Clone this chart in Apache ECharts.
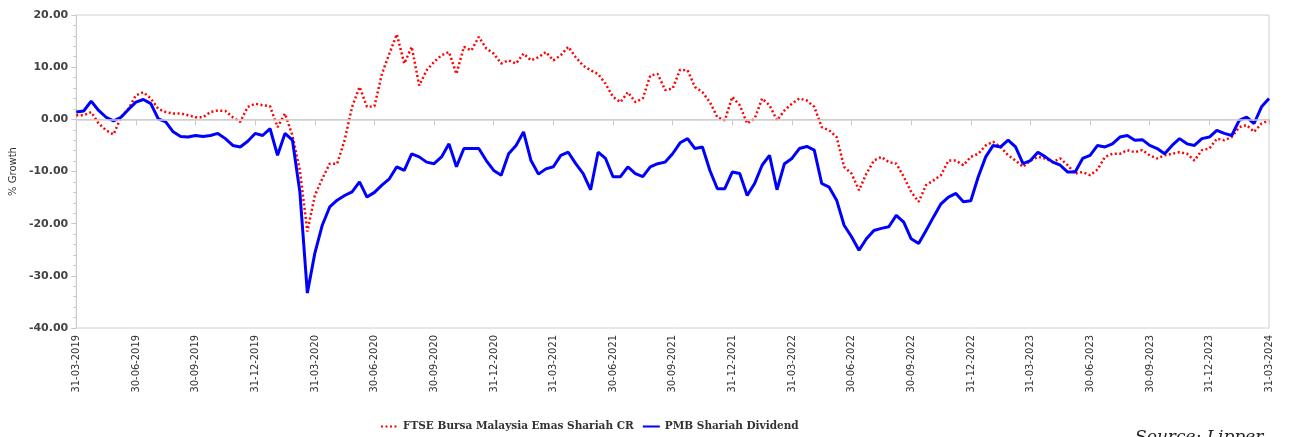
<!DOCTYPE html>
<html>
<head>
<meta charset="utf-8">
<title>FTSE Bursa Malaysia Emas Shariah CR vs PMB Shariah Dividend</title>
<script src="https://cdn.jsdelivr.net/npm/echarts@6/dist/echarts.min.js"></script>
<style>
  html, body { margin: 0; padding: 0; background: #fff; }
  #chart { width: 1289px; height: 437px; }
</style>
</head>
<body>
<div id="chart"></div>
<script>
// quarter-end tick labels, 8 readings per quarter between them
var tickLabels = ['31-03-2019', '30-06-2019', '30-09-2019', '31-12-2019', '31-03-2020',
    '30-06-2020', '30-09-2020', '31-12-2020', '31-03-2021', '30-06-2021', '30-09-2021',
    '31-12-2021', '31-03-2022', '30-06-2022', '30-09-2022', '31-12-2022', '31-03-2023',
    '30-06-2023', '30-09-2023', '31-12-2023', '31-03-2024']
var stepsPerQuarter = 8

var ftseName = 'FTSE Bursa Malaysia Emas Shariah CR'
var pmbName = 'PMB Shariah Dividend'

var ftseGrowth = [
    0.8, 0.8, 1.4, -0.8, -2.1, -2.9, 0.4, 2.0,
    4.6, 5.2, 4.0, 2.0, 1.4, 1.1, 1.1, 0.8,
    0.4, 0.4, 1.4, 1.7, 1.6, 0.4, -0.5, 2.4,
    3.0, 2.7, 2.5, -1.5, 1.1, -3.1, -9.8, -21.5,
    -14.6, -11.4, -8.5, -8.5, -4.0, 2.4, 6.2, 2.4,
    2.5, 8.7, 12.6, 16.3, 10.7, 13.9, 6.5, 9.4,
    11.0, 12.3, 12.9, 8.7, 13.9, 13.2, 15.8, 13.6,
    12.6, 10.7, 11.3, 10.7, 12.6, 11.3, 11.9, 12.9,
    11.3, 12.3, 13.9, 11.9, 10.3, 9.4, 8.7, 6.8,
    4.3, 3.3, 5.2, 3.3, 4.0, 8.4, 8.7, 5.6,
    5.9, 9.5, 9.4, 6.2, 5.2, 3.3, 0.4, -0.2,
    4.3, 2.7, -0.8, 0.1, 4.0, 2.7, -0.2, 1.7,
    3.0, 4.0, 3.6, 2.4, -1.5, -2.1, -3.4, -9.1,
    -10.4, -13.6, -10.4, -7.9, -7.2, -8.2, -8.5, -11.0,
    -13.9, -15.8, -12.6, -11.7, -10.7, -7.9, -7.9, -8.8,
    -7.2, -6.6, -5.0, -4.3, -5.3, -6.9, -7.9, -9.1,
    -7.9, -7.2, -7.5, -8.2, -7.5, -8.8, -10.4, -10.1,
    -10.7, -9.6, -7.2, -6.6, -6.6, -5.9, -6.3, -5.9,
    -6.9, -7.5, -6.9, -6.6, -6.3, -6.6, -7.9, -5.9,
    -5.6, -3.7, -4.0, -3.4, -1.5, -1.1, -2.4, -0.8,
    -0.2
]

var pmbGrowth = [
    1.4, 1.6, 3.5, 1.7, 0.4, -0.3, 0.4, 1.9,
    3.3, 3.8, 3.0, 0.1, -0.5, -2.4, -3.3, -3.4,
    -3.1, -3.3, -3.1, -2.7, -3.7, -5.0, -5.3, -4.2,
    -2.7, -3.1, -1.8, -6.9, -2.7, -4.0, -14.0, -33.3,
    -25.7, -20.3, -16.8, -15.5, -14.6, -13.9, -12.0, -14.9,
    -14.0, -12.6, -11.4, -9.1, -9.8, -6.6, -7.2, -8.2,
    -8.5, -7.2, -4.7, -9.1, -5.6, -5.6, -5.6, -7.9,
    -9.8, -10.7, -6.6, -5.0, -2.4, -7.9, -10.5, -9.5,
    -9.1, -6.9, -6.3, -8.5, -10.4, -13.5, -6.3, -7.5,
    -11.0, -11.0, -9.1, -10.4, -11.0, -9.1, -8.5, -8.2,
    -6.6, -4.5, -3.7, -5.6, -5.3, -9.8, -13.3, -13.3,
    -10.1, -10.4, -14.6, -12.3, -8.8, -6.9, -13.5, -8.5,
    -7.5, -5.6, -5.2, -5.9, -12.3, -13.0, -15.5, -20.3,
    -22.5, -25.1, -22.9, -21.3, -20.9, -20.6, -18.4, -19.7,
    -22.9, -23.8, -21.3, -18.7, -16.2, -14.9, -14.2, -15.8,
    -15.6, -11.0, -7.2, -5.0, -5.3, -4.0, -5.3, -8.5,
    -7.9, -6.3, -7.2, -8.2, -8.8, -10.1, -10.1, -7.5,
    -6.9, -5.0, -5.3, -4.7, -3.4, -3.1, -4.0, -3.9,
    -5.0, -5.6, -6.6, -5.0, -3.7, -4.7, -5.0, -3.7,
    -3.4, -2.1, -2.7, -3.1, -0.2, 0.4, -0.8, 2.4,
    4.0
]

var toPoints = function (values) {
    var pts = []
    for (var i = 0; i < values.length; i++) {
        pts.push([i / stepsPerQuarter, values[i]])
    }
    return pts
}

var chart = echarts.init(document.getElementById('chart'), null, { renderer: 'canvas' })

var option = {
    animation: false,
    backgroundColor: '#fff',
    grid: {
        left: 73,
        right: 20,
        top: 15,
        bottom: 109,
        show: true,
        borderColor: '#d0d0d0',
        borderWidth: 1
    },
    legend: {
        left: 380,
        top: 421,
        padding: 0,
        itemWidth: 17,
        itemHeight: 10,
        itemGap: 8,
        // line only in the legend keys, no marker dot
        itemStyle: { opacity: 0 },
        textStyle: {
            fontFamily: 'DejaVu Serif',
            fontWeight: 'bold',
            fontSize: 10.5,
            color: '#333'
        },
        data: [ftseName, pmbName]
    },
    xAxis: {
        type: 'value',
        min: 0,
        max: tickLabels.length - 1,
        interval: 1,
        splitLine: { show: false },
        axisLine: { lineStyle: { color: '#c8c8d0', width: 1 } },
        axisTick: { show: true, length: 6, lineStyle: { color: '#c8c8d0' } },
        axisLabel: {
            rotate: 90,
            margin: 7,
            fontFamily: 'DejaVu Sans Condensed, Liberation Sans',
            fontSize: 11,
            color: '#333',
            formatter: function (v) {
                return tickLabels[Math.round(v)] || ''
            }
        }
    },
    yAxis: {
        type: 'value',
        min: -40,
        max: 20,
        interval: 10,
        name: '% Growth',
        nameLocation: 'middle',
        nameGap: 55,
        nameTextStyle: {
            fontFamily: 'DejaVu Sans',
            fontSize: 10,
            color: '#333'
        },
        splitLine: { show: false },
        axisLine: { show: true, lineStyle: { color: '#c8c8d0', width: 1 } },
        axisTick: { show: true, length: 5, lineStyle: { color: '#c8c8d0' } },
        minorTick: { show: true, splitNumber: 5, length: 3, lineStyle: { color: '#c8c8d0' } },
        axisLabel: {
            margin: 8,
            fontFamily: 'DejaVu Sans',
            fontWeight: 'bold',
            fontSize: 11,
            color: '#444',
            formatter: function (v) {
                return v.toFixed(2)
            }
        }
    },
    series: [
        {
            name: ftseName,
            type: 'line',
            symbol: 'none',
            data: toPoints(ftseGrowth),
            itemStyle: { color: '#ff0000' },
            lineStyle: { color: '#ff0000', width: 2.5, type: [2, 2.5] },
            markLine: {
                silent: true,
                symbol: 'none',
                label: { show: false },
                lineStyle: { color: '#d0d0d0', width: 1.5, type: 'solid' },
                data: [{ yAxis: 0 }]
            },
            z: 2
        },
        {
            name: pmbName,
            type: 'line',
            symbol: 'none',
            data: toPoints(pmbGrowth),
            itemStyle: { color: '#0000ff' },
            lineStyle: { color: '#0000ff', width: 3 },
            z: 3
        }
    ],
    graphic: [
        {
            type: 'text',
            left: 1135,
            top: 429,
            style: {
                text: 'Source: Lipper',
                fontFamily: 'DejaVu Serif',
                fontStyle: 'italic',
                fontSize: 17,
                fill: '#222'
            }
        }
    ]
}

chart.setOption(option)
</script>
</body>
</html>
